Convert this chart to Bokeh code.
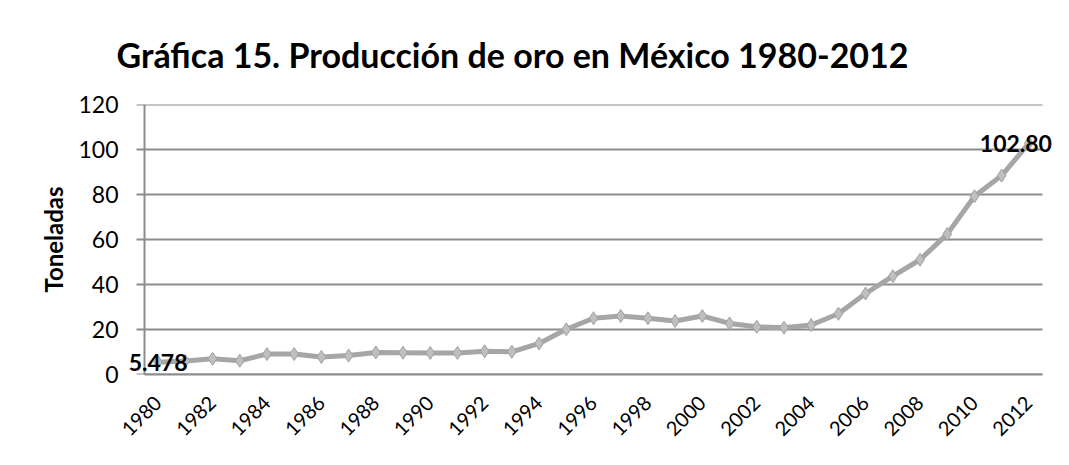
from bokeh.plotting import figure
from bokeh.models import FixedTicker, ColumnDataSource, Label, Title
from bokeh.embed import file_html
from bokeh.resources import INLINE

years = list(range(1980, 2013))
gold_tonnes = [5.478, 6.0, 7.0, 6.1, 9.1, 9.1, 7.8, 8.4, 9.8, 9.7, 9.6, 9.6, 10.3, 10.1,
               13.8, 20.1, 25.0, 26.0, 25.0, 23.8, 26.0, 22.7, 21.2, 20.8, 22.0, 27.0,
               36.0, 43.7, 51.0, 62.4, 79.2, 88.4, 102.8]
tick_years = list(range(1980, 2013, 2))
y_ticks = [0, 20, 40, 60, 80, 100, 120]
label_years = [1980, 2012]
label_texts = ["5.478", "102.80"]

FONT = "Lato"
GRID = "#8c8c8c"

# category band edges (first/last category +/- half a band)
x_lo = years[0] - 0.5
x_hi = years[-1] + 0.5
px = 33 / 897.0          # data units per pixel along x
tick_len = 8 * px        # outside tick length of the value axis

p = figure(width=1053, height=449, output_backend="svg", toolbar_location=None,
           x_range=(x_lo - 18 * px, x_hi + 11 * px), y_range=(0, 120),
           min_border_left=126, min_border_right=0, min_border_top=104, min_border_bottom=75)
p.outline_line_color = None
p.background_fill_color = "white"
p.border_fill_color = "white"

p.add_layout(Title(text="Gráfica 15. Producción de oro en México 1980-2012",
                   text_font=FONT, text_font_size="34px", text_font_style="bold",
                   text_color="black", align="left", offset=-10, standoff=60), "above")

# horizontal gridlines (with the value axis' outside ticks) limited to the category band
p.segment(x0=[x_lo - tick_len] * len(y_ticks), x1=[x_hi] * len(y_ticks), y0=y_ticks, y1=y_ticks,
          line_color=GRID, line_width=2)
# value axis line
p.segment(x0=[x_lo], x1=[x_lo], y0=[y_ticks[0]], y1=[y_ticks[-1]], line_color=GRID, line_width=2)

src = ColumnDataSource(dict(x=years, y=gold_tonnes))
p.line("x", "y", source=src, line_color="#a6a6a6", line_width=5)
p.scatter("x", "y", source=src, marker="diamond", size=13,
          fill_color="#bfbfbf", line_color="#a0a0a0", line_width=1)

offsets = [0, -13]
for yr, txt, off in zip(label_years, label_texts, offsets):
    p.add_layout(Label(x=yr, y=gold_tonnes[years.index(yr)], text=txt, x_offset=off,
                       text_font="Lato", text_font_size="23px", text_font_style="bold",
                       text_color="black", text_align="center", text_baseline="middle",
                       level="overlay"))

# bottom (category) axis
xa = p.below[0]
xa.ticker = FixedTicker(ticks=tick_years)
xa.bounds = (x_lo, x_hi)
xa.major_label_orientation = 0.785398
xa.major_tick_out = 0
xa.major_tick_in = 0
xa.minor_tick_out = 0
xa.minor_tick_in = 0
xa.axis_line_color = GRID
xa.axis_line_width = 2
xa.major_label_text_font = FONT
xa.major_label_text_font_size = "20px"
xa.major_label_text_color = "black"
xa.major_label_standoff = 25

# left (value) axis: labels only; line and ticks drawn with the gridlines
ya = p.left[0]
ya.ticker = FixedTicker(ticks=y_ticks)
ya.axis_line_color = None
ya.major_tick_line_color = None
ya.minor_tick_line_color = None
ya.major_tick_out = 0
ya.major_tick_in = 0
ya.minor_tick_out = 0
ya.minor_tick_in = 0
ya.major_label_text_font = FONT
ya.major_label_text_font_size = "23px"
ya.major_label_text_color = "black"
ya.major_label_standoff = 8
ya.axis_label = "Toneladas"
ya.axis_label_text_font = FONT
ya.axis_label_text_font_size = "24px"
ya.axis_label_text_font_style = "bold"
ya.axis_label_text_color = "black"
ya.axis_label_standoff = 7

p.xgrid.grid_line_color = None
p.ygrid.grid_line_color = None

open("out.html", "w").write(file_html(p, INLINE))
